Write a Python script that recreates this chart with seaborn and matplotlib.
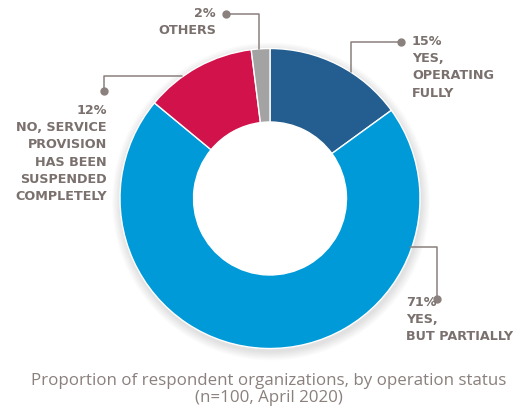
import matplotlib
matplotlib.use("Agg")
import matplotlib.pyplot as plt
import seaborn as sns
from matplotlib.patches import Circle

# Survey data
categories = ["YES,\nOPERATING\nFULLY", "YES,\nBUT PARTIALLY",
              "NO, SERVICE\nPROVISION\nHAS BEEN\nSUSPENDED\nCOMPLETELY", "OTHERS"]
shares = [15, 71, 12, 2]
colors = ["#245d8f", "#009ad9", "#d2124a", "#a3a3a3"]

sns.set_theme(style="white")
plt.rcParams["font.family"] = ["Open Sans", "DejaVu Sans"]

W, H = 524, 409
fig = plt.figure(figsize=(W / 100, H / 100), dpi=100)
ax = fig.add_axes([0, 0, 1, 1])

cx, cy, R = 270, H - 198.5, 150
hole = R * 0.51

# soft halo behind the ring
for k in range(10, 0, -1):
    ax.add_patch(Circle((cx + 1, cy - 3), R + k * 0.9, color="#000000",
                        alpha=0.012, lw=0, zorder=0))
ax.add_patch(Circle((cx, cy), hole + 1, color="white", lw=0, zorder=1))

wedges, _ = ax.pie(shares, colors=colors, startangle=90, counterclock=False,
                   center=(cx, cy), radius=R,
                   wedgeprops=dict(width=R - hole, edgecolor="white", linewidth=1.0))
for w in wedges:
    w.set_zorder(2)

ax.set_xlim(0, W)
ax.set_ylim(0, H)
ax.set_aspect("equal")
ax.axis("off")

label_col = "#7a716e"
line_col = "#8a807d"


def Y(y):
    return H - y


def leader(points, dot):
    xs = [p[0] for p in points]
    ys = [Y(p[1]) for p in points]
    ax.plot(xs, ys, color=line_col, lw=1.1, zorder=3)
    ax.plot([dot[0]], [Y(dot[1])], "o", color=line_col, ms=5, zorder=3)


txt = dict(fontsize=9.2, fontweight="bold", color=label_col, linespacing=1.42,
           family=["DejaVu Sans"])

# OTHERS (2%)
leader([(226, 14), (259, 14), (259, 49)], (226, 14))
ax.text(216, Y(7), f"{shares[3]}%\n{categories[3]}", ha="right", va="top",
        multialignment="right", **txt)

# YES, OPERATING FULLY (15%)
leader([(401, 42), (351, 42), (351, 72)], (401, 42))
ax.text(412, Y(35), f"{shares[0]}%\n{categories[0]}", ha="left", va="top", **txt)

# NO, SERVICE ... (12%)
leader([(104, 91), (104, 76), (182, 76)], (104, 91))
ax.text(107, Y(104), f"{shares[2]}%\n{categories[2]}", ha="right", va="top",
        multialignment="right", **txt)

# YES, BUT PARTIALLY (71%)
leader([(410, 247), (437, 247), (437, 299)], (437, 299))
ax.text(406, Y(296), f"{shares[1]}%\n{categories[1]}", ha="left", va="top", **txt)

# caption
ax.text(W / 2 + 7, Y(373), "Proportion of respondent organizations, by operation status\n(n=100, April 2020)",
        ha="center", va="top", fontsize=12.15, color="#8a807d", linespacing=1.05)

fig.savefig("out.png", dpi=100, facecolor="white")
